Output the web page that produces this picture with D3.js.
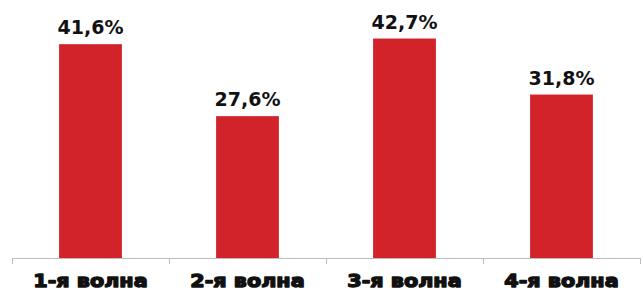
<!DOCTYPE html>
<html>
<head>
<meta charset="utf-8">
<script src="https://cdn.jsdelivr.net/npm/d3@7"></script>
<style>
  body { margin: 0; background: #fff; }
  svg { display: block; }
  .vlabel { font-family: "DejaVu Sans", sans-serif; font-weight: bold; font-size: 19px; fill: #111; }
  .clabel { font-family: "DejaVu Sans", sans-serif; font-weight: bold; font-size: 18.5px; fill: #111;
            stroke: #111; stroke-width: 1.4px; stroke-linejoin: round; }
</style>
</head>
<body>
<svg width="643" height="292"></svg>
<script>
// data
const categories = ["1-я волна", "2-я волна", "3-я волна", "4-я волна"];
const values = [41.6, 27.6, 42.7, 31.8];
const valueLabels = ["41,6%", "27,6%", "42,7%", "31,8%"];

let svg = d3.select("svg");

const left = 12, right = 640, baseY = 258;

let x = d3.scaleBand()
    .domain(categories)
    .range([left, right])
    .paddingInner(0.6)
    .paddingOuter(0.3);

// 41.6 -> top at ~44px
let y = d3.scaleLinear()
    .domain([0, 50])
    .range([baseY, baseY - 50 * 5.14]);

// axis line + tick marks between categories
let band = (right - left) / categories.length;
svg.append("line")
    .attr("x1", left).attr("x2", right)
    .attr("y1", baseY + 0.5).attr("y2", baseY + 0.5)
    .attr("stroke", "#bdbdbd").attr("stroke-width", 1);
svg.selectAll("line.tick")
    .data(d3.range(categories.length + 1))
    .enter().append("line")
    .attr("class", "tick")
    .attr("x1", d => left + d * band + 0.5)
    .attr("x2", d => left + d * band + 0.5)
    .attr("y1", baseY).attr("y2", baseY + 6)
    .attr("stroke", "#bdbdbd");

// bars
svg.selectAll("rect.bar")
    .data(values)
    .enter().append("rect")
    .attr("class", "bar")
    .attr("x", (d, i) => x(categories[i]))
    .attr("width", x.bandwidth())
    .attr("y", d => y(d))
    .attr("height", d => baseY - y(d))
    .attr("fill", "#d2232a");

// value labels
svg.selectAll("text.vlabel")
    .data(values)
    .enter().append("text")
    .attr("class", "vlabel")
    .attr("text-anchor", "middle")
    .attr("x", (d, i) => x(categories[i]) + x.bandwidth() / 2)
    .attr("y", d => y(d) - 10)
    .text((d, i) => valueLabels[i]);

// category labels (wide, heavy face -> stretch a bit)
svg.selectAll("text.clabel")
    .data(categories)
    .enter().append("text")
    .attr("class", "clabel")
    .attr("text-anchor", "middle")
    .attr("transform", d => `translate(${x(d) + x.bandwidth() / 2},286.5) scale(1.12,1)`)
    .text(d => d);
</script>
</body>
</html>
